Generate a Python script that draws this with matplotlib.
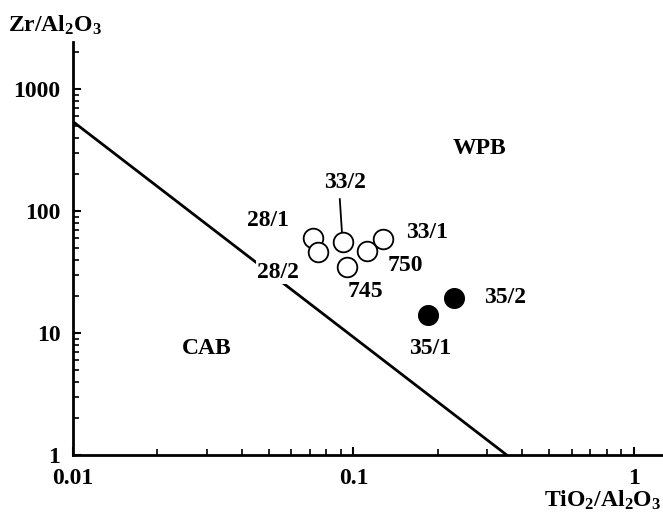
import numpy as np
import matplotlib
matplotlib.use("Agg")
import matplotlib.pyplot as plt
from matplotlib.ticker import LogLocator, NullFormatter, FixedFormatter, FixedLocator

# sample data: TiO2/Al2O3 vs Zr/Al2O3
open_names = ["28/1", "28/1b", "33/2", "745", "750", "33/1"]
open_x = [0.072, 0.075, 0.0915, 0.0945, 0.112, 0.127]
open_y = [60, 46, 56, 35, 47, 59]

filled_names = ["35/1", "35/2"]
filled_x = [0.184, 0.228]
filled_y = [14, 19.4]

# CAB / WPB discriminant line
line_x = [0.01, 0.352]
line_y = [540, 1]

# point labels (text, x, y)
labels = [
    ("28/1", 0.0495, 84),
    ("33/2", 0.0933, 170),
    ("33/1", 0.183, 67),
    ("750", 0.153, 36),
    ("745", 0.110, 21.7),
    ("35/2", 0.347, 19.7),
    ("35/1", 0.187, 7.5),
]

plt.rcParams["font.family"] = ["Liberation Serif", "DejaVu Serif"]
plt.rcParams["mathtext.fontset"] = "custom"
plt.rcParams["mathtext.rm"] = "Liberation Serif:bold"
plt.rcParams["mathtext.it"] = "Liberation Serif:bold"
plt.rcParams["mathtext.bf"] = "Liberation Serif:bold"

fig = plt.figure(figsize=(6.63, 5.19), dpi=100)
ax = fig.add_axes([0.1101, 0.1233, 0.8899, 0.7958])
ax.set_xscale("log")
ax.set_yscale("log")
ax.set_xlim(0.01, 1.27)
ax.set_ylim(1, 2427)

for s in ["top", "right"]:
    ax.spines[s].set_visible(False)
for s in ["left", "bottom"]:
    ax.spines[s].set_linewidth(2)

ax.plot(line_x, line_y, color="black", linewidth=2, zorder=1)

ax.scatter(open_x, open_y, s=200, facecolors="white", edgecolors="black",
           linewidths=1.3, zorder=3)
ax.scatter(filled_x, filled_y, s=200, facecolors="black", edgecolors="black",
           zorder=3)

fs = 17
for txt, x, y in labels:
    ax.text(x, y, txt, fontsize=fs, fontweight="bold", ha="center", va="center", zorder=4)

# 28/2 label sits on the line, with a gap cut out
ax.text(0.0538, 31.6, "28/2", fontsize=fs, fontweight="bold", ha="center", va="center",
        zorder=2, bbox=dict(facecolor="white", edgecolor="none", pad=1))

# leader line for 33/2
ax.plot([0.0894, 0.0910], [125, 67], color="black", linewidth=1.3, zorder=2)

ax.text(0.282, 328, "WPB", fontsize=fs, fontweight="bold", ha="center", va="center")
ax.text(0.030, 7.5, "CAB", fontsize=fs, fontweight="bold", ha="center", va="center")

ax.xaxis.set_major_locator(FixedLocator([0.01, 0.1, 1]))
ax.xaxis.set_major_formatter(FixedFormatter(["0.01", "0.1", "1"]))
ax.xaxis.set_minor_locator(LogLocator(base=10, subs=np.arange(2, 10)))
ax.xaxis.set_minor_formatter(NullFormatter())
ax.yaxis.set_major_locator(FixedLocator([1, 10, 100, 1000]))
ax.yaxis.set_major_formatter(FixedFormatter(["1", "10", "100", "1000"]))
ax.yaxis.set_minor_locator(LogLocator(base=10, subs=np.arange(2, 10)))
ax.yaxis.set_minor_formatter(NullFormatter())

ax.tick_params(which="major", direction="in", length=6, width=1.5, labelsize=fs, pad=9)
ax.tick_params(which="minor", direction="in", length=4, width=1.2)
for lab in ax.get_xticklabels() + ax.get_yticklabels():
    lab.set_fontweight("bold")

fig.text(0.012, 0.952, r"Zr/Al$_2$O$_3$", fontsize=fs, fontweight="bold", ha="left", va="center")
fig.text(0.998, 0.035, r"TiO$_2$/Al$_2$O$_3$", fontsize=fs, fontweight="bold", ha="right", va="center")

fig.savefig("out.png", dpi=100)
